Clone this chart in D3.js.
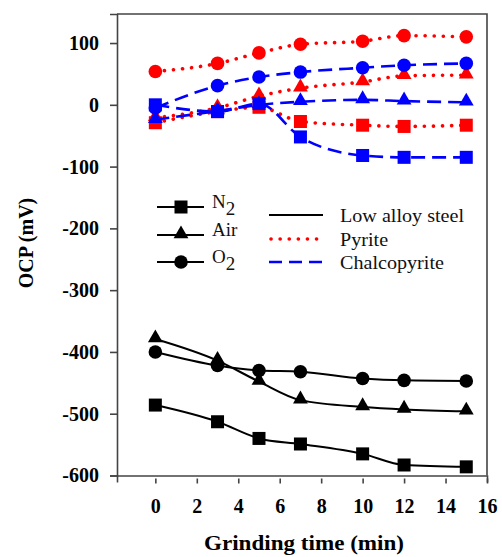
<!DOCTYPE html>
<html>
<head>
<meta charset="utf-8">
<script src="https://cdn.jsdelivr.net/npm/d3@7"></script>
<style>
  body { margin: 0; background: #fff; }
  text { font-family: 'Liberation Serif', 'Times New Roman', serif; }
</style>
</head>
<body>
<script>
var times = [0, 3, 5, 7, 10, 12, 15];

// low alloy steel
var steelN2 = [-486, -513, -540, -549, -565, -583, -586];
var steelAir = [-379, -414, -448, -478, -489, -493, -496];
var steelO2 = [-400, -422, -430, -432, -443, -446, -447];
// pyrite
var pyriteN2 = [-29, -11, -4, -27, -33, -35, -33];
var pyriteAir = [-21, -5, 14, 27, 37, 47, 48];
var pyriteO2 = [54, 67, 84, 98, 103, 112, 110];
// chalcopyrite
var chalcoN2 = [0, -11, 2, -52, -82, -85, -85];
var chalcoAir = [-24, -10, 0, 5, 8, 6, 4];
var chalcoO2 = [-5, 31, 45, 53, 60, 64, 67];

var xTicks = [0, 2, 4, 6, 8, 10, 12, 14, 16];
var yTicks = [-600, -500, -400, -300, -200, -100, 0, 100];

var w = 502,
    h = 557;

var RED = '#ff0000';
var BLUE = '#0000ff';
var FRAME = '#444';

var x = d3.scaleLinear().domain([-1.85, 16]).range([117, 487]);
var y = d3.scaleLinear().domain([-600, 147]).range([475.5, 14]);

var svg = d3.select('body').append('svg')
  .attr('width', w)
  .attr('height', h);

// frame (top and right)
svg.append('path')
  .attr('d', 'M' + x(-1.85) + ',' + y(147) + 'H' + x(16) + 'V' + y(-600))
  .attr('fill', 'none')
  .attr('stroke', FRAME)
  .attr('stroke-width', 1.6);

var yAxis = svg.append('g')
  .attr('transform', 'translate(' + x(-1.85) + ',0)')
  .call(d3.axisLeft(y).tickValues(yTicks).tickSize(7).tickPadding(11)
    .tickFormat(function(d) { return String(d); }));

var xAxis = svg.append('g')
  .attr('transform', 'translate(0,' + y(-600) + ')')
  .call(d3.axisBottom(x).tickValues(xTicks).tickSize(7).tickPadding(16));

[xAxis, yAxis].forEach(function(a) {
  a.select('.domain').attr('stroke', FRAME).attr('stroke-width', 1.6);
  a.selectAll('.tick line').attr('stroke', FRAME).attr('stroke-width', 1.6);
  a.selectAll('text')
    .attr('fill', '#000')
    .style('font-size', '20px')
    .style('font-weight', 'bold')
    .style('font-family', "'Liberation Serif', serif");
});
// x ticks start just below the axis line
xAxis.selectAll('.tick line').attr('y1', 3).attr('y2', 8);

svg.append('text')
  .attr('transform', 'translate(33,243) rotate(-90)')
  .attr('text-anchor', 'middle')
  .style('font-size', '20px')
  .style('font-weight', 'bold')
  .text('OCP (mV)');

svg.append('text')
  .attr('transform', 'translate(304,550) scale(1.05,1)')
  .attr('text-anchor', 'middle')
  .style('font-size', '22px')
  .style('font-weight', 'bold')
  .text('Grinding time (min)');

var line = d3.line()
  .x(function(d, i) { return x(times[i]); })
  .y(function(d) { return y(d); })
  .curve(d3.curveMonotoneX);

var styles = {
  steel: { color: '#000', width: 2, dash: null, cap: 'butt' },
  pyrite: { color: RED, width: 3.6, dash: '0.1,9', cap: 'round' },
  chalco: { color: BLUE, width: 2.6, dash: '14,7', cap: 'butt' }
};

function drawMarker(g, shape, cx, cy, color) {
  if (shape === 'square') {
    g.append('rect').attr('x', cx - 6.5).attr('y', cy - 6.5)
      .attr('width', 13).attr('height', 13).attr('fill', color);
  } else if (shape === 'triangle') {
    g.append('path')
      .attr('d', d3.symbol().type(d3.symbolTriangle).size(95)())
      .attr('transform', 'translate(' + cx + ',' + (cy - 1) + ')')
      .attr('fill', color);
  } else {
    g.append('circle').attr('cx', cx).attr('cy', cy).attr('r', 6.8).attr('fill', color);
  }
}

var series = [
  { values: steelN2, style: 'steel', shape: 'square' },
  { values: steelAir, style: 'steel', shape: 'triangle' },
  { values: steelO2, style: 'steel', shape: 'circle' },
  { values: pyriteO2, style: 'pyrite', shape: 'circle' },
  { values: pyriteAir, style: 'pyrite', shape: 'triangle' },
  { values: pyriteN2, style: 'pyrite', shape: 'square' },
  { values: chalcoO2, style: 'chalco', shape: 'circle' },
  { values: chalcoAir, style: 'chalco', shape: 'triangle' },
  { values: chalcoN2, style: 'chalco', shape: 'square' }
];

series.forEach(function(s) {
  var st = styles[s.style];
  var g = svg.append('g');
  g.append('path')
    .datum(s.values)
    .attr('d', line)
    .attr('fill', 'none')
    .attr('stroke', st.color)
    .attr('stroke-width', st.width)
    .attr('stroke-dasharray', st.dash)
    .attr('stroke-linecap', st.cap);
  s.values.forEach(function(v, i) {
    drawMarker(g, s.shape, x(times[i]), y(v), st.color);
  });
});

// legend: gases
var gasNames = [['N', '2'], ['Air', ''], ['O', '2']];
var gasShapes = ['square', 'triangle', 'circle'];
var gasY = [207, 235, 262];
var lg = svg.append('g');
gasNames.forEach(function(n, i) {
  lg.append('line')
    .attr('x1', 157).attr('x2', 204)
    .attr('y1', gasY[i]).attr('y2', gasY[i])
    .attr('stroke', '#000').attr('stroke-width', 2);
  drawMarker(lg, gasShapes[i], 181, gasY[i], '#000');
  var t = lg.append('text')
    .attr('x', 212).attr('y', gasY[i] + 1)
    .style('font-size', '19px')
    .attr('fill', '#111');
  t.append('tspan').text(n[0]);
  if (n[1]) t.append('tspan').attr('dy', 7).style('font-size', '19px').text(n[1]);
});

// legend: materials
var matNames = ['Low alloy steel', 'Pyrite', 'Chalcopyrite'];
var matKeys = ['steel', 'pyrite', 'chalco'];
var matY = [215, 239, 262];
matNames.forEach(function(n, i) {
  var st = styles[matKeys[i]];
  lg.append('line')
    .attr('x1', i === 1 ? 271 : 269).attr('x2', 323)
    .attr('y1', matY[i]).attr('y2', matY[i])
    .attr('stroke', st.color)
    .attr('stroke-width', st.width)
    .attr('stroke-dasharray', i === 2 ? '13,7' : st.dash)
    .attr('stroke-linecap', st.cap);
  lg.append('text')
    .attr('transform', 'translate(340,' + (matY[i] + 7) + ') scale(1.06,1)')
    .style('font-size', '19px')
    .attr('fill', '#111')
    .text(n);
});
</script>
</body>
</html>
